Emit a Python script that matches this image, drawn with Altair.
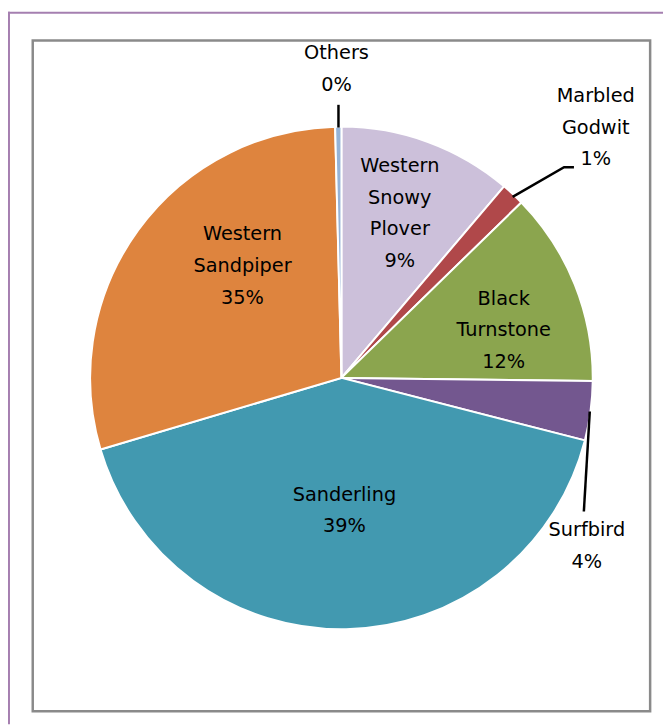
import altair as alt
import pandas as pd

# ---- data ----
species = ["Western Snowy Plover", "Marbled Godwit", "Black Turnstone", "Surfbird",
           "Sanderling", "Western Sandpiper", "Others"]
# slice shares as drawn (angles)
shares = [11.2, 1.5, 12.5, 3.8, 41.4, 29.2, 0.4]
# percentages as printed in the data labels
pct_labels = ["9%", "1%", "12%", "4%", "39%", "35%", "0%"]
name_lines = ["Western\nSnowy\nPlover", "Marbled\nGodwit", "Black\nTurnstone", "Surfbird",
              "Sanderling", "Western\nSandpiper", "Others"]
colors = ["#CCC0DA", "#B0484A", "#8BA54E", "#73578F", "#4299B0", "#DE843E", "#95B3D7"]

# ---- layout (chart pixel coordinates; y = first text line) ----
W, H = 662, 720
CX, CY, R = 337, 370, 254
label_x = [396, 594, 501, 585, 340, 237, 332]
label_y = [156, 85, 290, 524, 488, 225, 42]
leader_x = [[510, 562, 572], [588, 582], [334, 334]]
leader_y = [[187, 157, 157], [404, 505], [94, 117]]

df = pd.DataFrame({
    "species": species,
    "share": shares,
    "order": list(range(len(species))),
    "label": [n + "\n" + p for n, p in zip(name_lines, pct_labels)],
    "lx": label_x,
    "ly": label_y,
})

lead_rows = []
for g, (xs, ys) in enumerate(zip(leader_x, leader_y)):
    for i, (x, y) in enumerate(zip(xs, ys)):
        lead_rows.append({"g": g, "i": i, "x": x, "y": y})
leaders = pd.DataFrame(lead_rows)

dummy = pd.DataFrame({"a": [0]})

purple_top = alt.Chart(dummy).mark_rule(color="#A57FB0", strokeWidth=2).encode(
    x=alt.value(0), x2=alt.value(W), y=alt.value(1))
purple_left = alt.Chart(dummy).mark_rule(color="#A57FB0", strokeWidth=2).encode(
    x=alt.value(1), y=alt.value(0), y2=alt.value(H))
inner = alt.Chart(dummy).mark_rect(fill="white", stroke="#8A8A8A", strokeWidth=2.5).encode(
    x=alt.value(25), x2=alt.value(649), y=alt.value(29), y2=alt.value(707))

pie = alt.Chart(df).mark_arc(outerRadius=R, stroke="white", strokeWidth=2).encode(
    theta=alt.Theta("share:Q", stack=True),
    order=alt.Order("order:Q"),
    color=alt.Color("species:N", scale=alt.Scale(domain=species, range=colors), legend=None),
    x=alt.value(CX), y=alt.value(CY),
)

lines = alt.Chart(leaders).mark_line(color="black", strokeWidth=2.5).encode(
    x=alt.X("x:Q", scale=None), y=alt.Y("y:Q", scale=None),
    detail="g:N", order="i:Q")

texts = alt.Chart(df).mark_text(font="DejaVu Sans", fontSize=19.5, lineBreak="\n", lineHeight=32,
                                 align="center", baseline="middle", color="black").encode(
    x=alt.X("lx:Q", scale=None), y=alt.Y("ly:Q", scale=None), text="label:N")

chart = alt.layer(purple_top, purple_left, inner, pie, lines, texts).properties(
    width=W, height=H, autosize=alt.AutoSizeParams(type="none"), padding=0
).configure_view(stroke=None)

chart.save("out.html", embed_options={"renderer": "svg", "actions": False})
